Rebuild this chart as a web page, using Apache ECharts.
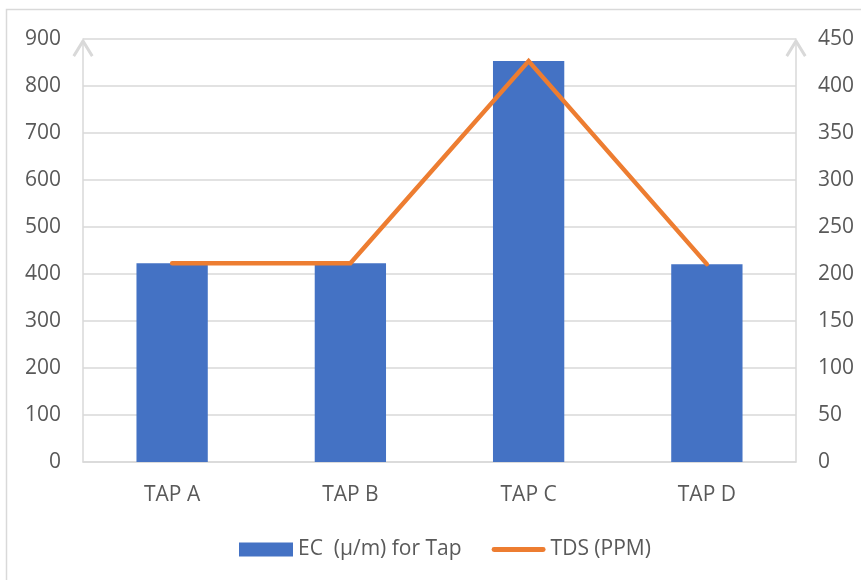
<!DOCTYPE html>
<html>
<head>
<meta charset="utf-8">
<script src="https://cdn.jsdelivr.net/npm/echarts@6/dist/echarts.min.js"></script>
<style>
  html, body { margin: 0; padding: 0; background: #fff; }
  #chart { width: 861px; height: 580px; }
</style>
</head>
<body>
<div id="chart"></div>
<script>
// Tap water measurements
const categories = ['TAP A', 'TAP B', 'TAP C', 'TAP D'];
const ecValues = [423, 423, 853, 421];
const tdsValues = [211.5, 211.5, 426.5, 210.5];
const ecName = 'EC  (\u03bc/m) for Tap';
const tdsName = 'TDS (PPM)';

const FONT = "'Open Sans', sans-serif";
const TEXT = '#595959';
const GRID = '#d9d9d9';
const FS = 21;

// open chevron drawn at the top end of each value axis
const chevron = 'path://M0,16.2 L9.8,0 L12.2,0 L22,16.2 L19.4,18 L11,4.2 L2.6,18 Z';
// rounded stroke used as the legend swatch of the line series
const lineSwatch = 'path://M2.5,0 L53.5,0 A2.5,2.5 0 0 1 53.5,5 L2.5,5 A2.5,2.5 0 0 1 2.5,0 Z';

const axisLineWithArrow = {
  show: true,
  lineStyle: { color: GRID, width: 1.5 },
  symbol: ['none', chevron],
  symbolSize: [21, 19],
  symbolOffset: [0, -9.5]
};

const chart = echarts.init(document.getElementById('chart'));
chart.setOption({
  animation: false,
  textStyle: { fontFamily: FONT },
  graphic: [{
    type: 'rect',
    shape: { x: 6.5, y: 9.5, width: 900, height: 600 },
    style: { fill: 'none', stroke: GRID, lineWidth: 1.5 },
    silent: true,
    z: -10
  }],
  grid: { left: 83, right: 65, top: 39, bottom: 118 },
  legend: {
    bottom: 15,
    left: 234,
    itemWidth: 54,
    itemHeight: 14,
    itemGap: 30,
    symbolKeepAspect: true,
    textStyle: { color: TEXT, fontSize: FS, fontFamily: FONT },
    data: [{ name: ecName, icon: 'rect' }, { name: tdsName, icon: lineSwatch }]
  },
  xAxis: {
    type: 'category',
    data: categories,
    axisTick: { show: false },
    axisLine: { show: true, lineStyle: { color: GRID, width: 1.5 } },
    axisLabel: { color: TEXT, fontSize: FS, margin: 23, fontFamily: FONT }
  },
  yAxis: [{
    type: 'value',
    min: 0, max: 900, interval: 100,
    axisLine: axisLineWithArrow,
    axisTick: { show: false },
    splitLine: { show: true, lineStyle: { color: GRID, width: 1.5 } },
    axisLabel: { color: TEXT, fontSize: FS, margin: 22, fontFamily: FONT }
  }, {
    type: 'value',
    min: 0, max: 450, interval: 50,
    axisLine: axisLineWithArrow,
    axisTick: { show: false },
    splitLine: { show: false },
    axisLabel: { color: TEXT, fontSize: FS, margin: 22, fontFamily: FONT }
  }],
  series: [{
    name: ecName,
    type: 'bar',
    data: ecValues,
    barWidth: '40%',
    itemStyle: { color: '#4472C4' }
  }, {
    name: tdsName,
    type: 'line',
    yAxisIndex: 1,
    data: tdsValues,
    symbol: 'none',
    z: 5,
    lineStyle: { color: '#ED7D31', width: 4.5, cap: 'round', join: 'miter' },
    itemStyle: { color: '#ED7D31' }
  }]
});
</script>
</body>
</html>
